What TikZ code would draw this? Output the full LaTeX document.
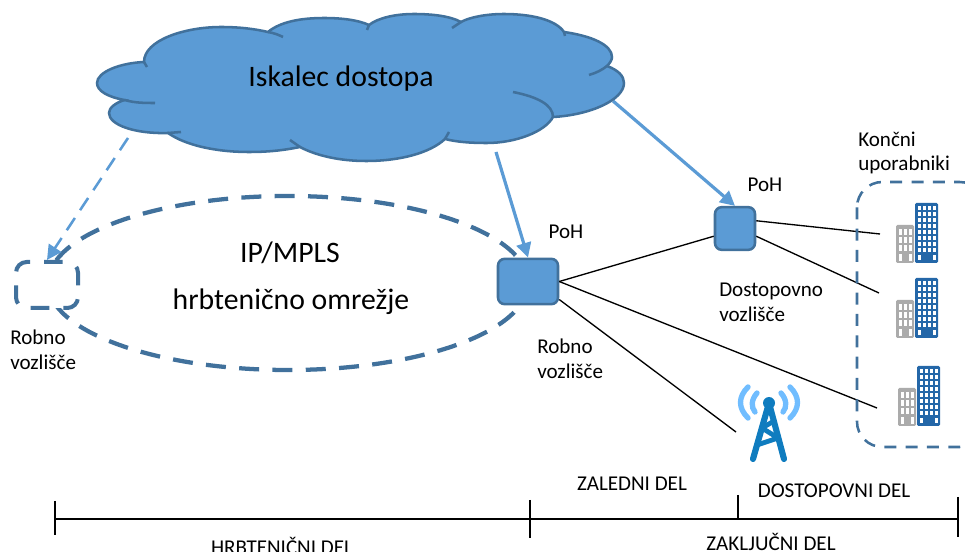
\documentclass[tikz,border=0pt]{standalone}
\usepackage{fontspec}
\setmainfont{Carlito}
\usetikzlibrary{arrows.meta}

\definecolor{cloudblue}{HTML}{5B9BD5}
\definecolor{edgeblue}{HTML}{41719C}
\definecolor{towerblue}{HTML}{0F7CBF}
\definecolor{waveblue}{HTML}{70BDFF}
\definecolor{tallblue}{HTML}{2467A8}
\definecolor{lowgray}{HTML}{ABABAB}

\tikzset{
  bigtext/.style={font=\fontsize{22.3}{26}\selectfont, inner sep=0pt},
  smalltext/.style={font=\fontsize{15.8}{18.5}\selectfont, inner sep=0pt, align=left},
  smallcaps/.style={font=\fontsize{15.8}{18}\selectfont, inner sep=0pt},
  poh/.style={draw=edgeblue, fill=cloudblue, line width=1.9pt, rounded corners=5pt, inner sep=0pt},
  dashbox/.style={draw=edgeblue, fill=white, line width=3pt, rounded corners=8pt, inner sep=0pt,
    dash pattern=on 14pt off 10.5pt, dash phase=21pt},
  cutarrow/.style={-{Triangle[length=11pt,width=11pt]}, cloudblue},
  link/.style={black, line width=1pt},
  pics/building/.style={code={
    \fill[lowgray, rounded corners=1pt] (0,0) rectangle (18,-38);
    \fill[tallblue, rounded corners=1pt] (19,0) rectangle (42,-60);
    \foreach \r in {0,...,2}
      \foreach \c in {0,1,2}
        \fill[white] (2.5+5*\c,-33.5+8*\r) rectangle ++(3.2,6);
    \fill[white] (2.5,-9) rectangle ++(3.2,7);
    \fill[white] (12.5,-9) rectangle ++(3.2,7);
    \foreach \r in {0,...,7}
      \foreach \c in {0,...,3}
        \fill[white] (22+5*\c,-57+6*\r) rectangle ++(3,4);
    \fill[white] (22,-8) rectangle ++(3,5);
    \fill[white] (37,-8) rectangle ++(3,5);
  }}
}

\begin{document}
\begin{tikzpicture}[x=0.75pt,y=-0.75pt]
  \useasboundingbox (0,0) rectangle (965,552);

  % Free ends of the connectors
  \coordinate (cloudleft) at (128,138);
  \coordinate (cloudmid) at (496,152);
  \coordinate (cloudright) at (613,101);
  \coordinate (userone) at (880,234);
  \coordinate (usertwo) at (879,293);
  \coordinate (userthree) at (877,408);
  \coordinate (towerend) at (736,432);

  % Backbone ellipse
  \draw[edgeblue, line width=3.2pt, dash pattern=on 15pt off 10pt] (288,283) ellipse [x radius=240, y radius=87];

  % Arrows out of the cloud
  \node[dashbox, minimum width=46.5pt, minimum height=34.5pt] (robnoleft) at (47,285) {};
  \node[poh, minimum width=45pt, minimum height=34pt] (robnoright) at (528,281.5) {};
  \node[poh, minimum width=30pt, minimum height=32pt] (dostop) at (735,228.5) {};
  \draw[cutarrow, line width=1.9pt, dash pattern=on 11pt off 7pt] (cloudleft) -- (robnoleft.north);
  \draw[cutarrow, line width=2.4pt] (cloudmid) -- (robnoright.north);
  \draw[cutarrow, line width=2.4pt] (cloudright) -- (dostop.north);

  % Cloud
  \draw[edgeblue, fill=cloudblue, line width=1.9pt]
    (144,62) .. controls (144,40) and (185,27) .. (221,27) .. controls (240,27) and (255,29) .. (268,32)
    .. controls (280,22) and (300,18) .. (324,18) .. controls (342,18) and (358,20) .. (369,25)
    .. controls (378,18) and (395,14) .. (414,14) .. controls (432,14) and (450,16) .. (461,22)
    .. controls (470,17) and (487,14) .. (504,14) .. controls (532,14) and (556,20) .. (564,32)
    .. controls (592,36) and (612,45) .. (612,57) .. controls (612,60) and (610,63) .. (607,66)
    .. controls (618,70) and (624,76) .. (624,83) .. controls (624,100) and (590,115) .. (553,117)
    .. controls (545,132) and (515,143) .. (487,143) .. controls (470,143) and (457,142) .. (445,139)
    .. controls (430,153) and (400,161) .. (366,161) .. controls (338,161) and (315,155) .. (300,147)
    .. controls (285,150) and (270,152) .. (249,152) .. controls (215,152) and (185,145) .. (168,133)
    .. controls (135,134) and (109,125) .. (109,113) .. controls (109,108) and (115,103) .. (124.5,100)
    .. controls (108,97) and (97,91) .. (97,83) .. controls (97,72) and (120,63) .. (144,62) -- cycle;
  \draw[edgeblue, line width=1.9pt] (144,62) -- (147,67);
  \draw[edgeblue, line width=1.9pt] (268,32) .. controls (274,33) and (279,35) .. (283,37);
  \draw[edgeblue, line width=1.9pt] (369,25) -- (367,30);
  \draw[edgeblue, line width=1.9pt] (461,22) -- (452,28);
  \draw[edgeblue, line width=1.9pt] (564,32) -- (565,36);
  \draw[edgeblue, line width=1.9pt] (607,66) .. controls (602,70) and (596,73) .. (589,75);
  \draw[edgeblue, line width=1.9pt] (513,92) .. controls (538,97) and (553,105) .. (553,117);
  \draw[edgeblue, line width=1.9pt] (445,139) -- (449,132);
  \draw[edgeblue, line width=1.9pt] (300,147) -- (290,140);
  \draw[edgeblue, line width=1.9pt] (168,133) -- (181,132);
  \draw[edgeblue, line width=1.9pt] (124.5,100) .. controls (135,103) and (145,103) .. (155,103);

  % Links
  \draw[link] (robnoright.east) -- (dostop.200);
  \draw[link] (robnoright.east) -- (userthree);
  \draw[link] (robnoright.-30) -- (towerend);
  \draw[link] (dostop.20) -- (userone);
  \draw[link] (dostop.-20) -- (usertwo);

  % Users
  \draw[edgeblue, line width=1.9pt, rounded corners=19pt, dash pattern=on 9pt off 7pt] (857,182) rectangle (985,447);
  \pic at (896,263) {building};
  \pic at (896,338) {building};
  \pic at (898,426) {building};

  % Tower
  \draw[towerblue, line width=4.6pt, line cap=round, line join=round]
    (753,459) -- (769,403) -- (784,459);
  \draw[towerblue, line width=3.6pt, line cap=round, line join=round]
    (757,445) -- (778,438) -- (762,428) -- (774,421);
  \fill[towerblue] (769,403) circle (6);
  \draw[waveblue, line width=4pt, line cap=round]
    (757,393) .. controls (751,400) and (751,407) .. (755,412)
    (781,393) .. controls (787,400) and (787,407) .. (783,412)
    (748,387) .. controls (738,397) and (738,408) .. (748,418)
    (790,387) .. controls (800,397) and (800,408) .. (790,418);

  % Labels
  \node[bigtext] (cloudlabel) at (341,79) {Iskalec dostopa};
  \node[bigtext] (iplabel) at (290,253) {IP/MPLS};
  \node[bigtext] (hrblabel) at (291,302) {hrbtenično omrežje};
  \node[smalltext] (pohleft) at (566,232) {PoH};
  \node[smalltext] (pohright) at (765,185) {PoH};
  \node[smalltext, anchor=west] (robnolabela) at (10,350) {Robno\\vozlišče};
  \node[smalltext, anchor=west] (robnolabelb) at (537,359) {Robno\\vozlišče};
  \node[smalltext, anchor=west] (dostoplabel) at (719,302) {Dostopovno\\vozlišče};
  \node[smalltext, anchor=west] (userlabel) at (858,153) {Končni\\uporabniki};

  % Scale at the bottom
  \coordinate (scalea) at (55,519);
  \coordinate (scaleb) at (530,519);
  \coordinate (scalec) at (738,519);
  \coordinate (scaled) at (958,519);
  \draw[link] (scalea) -- (scaled);
  \draw[link] (55,501) -- (55,535);
  \draw[link] (530,500) -- (530,538);
  \draw[link] (738,495) -- (scalec);
  \draw[link] (958,497) -- (958,537);
  \node[smallcaps] (zaledni) at (632,484) {ZALEDNI DEL};
  \node[smallcaps] (dostopovni) at (834,491) {DOSTOPOVNI DEL};
  \node[smallcaps] (hrbtenicni) at (282,546) {HRBTENIČNI DEL};
  \node[smallcaps] (zakljucni) at (771,542) {ZAKLJUČNI DEL};
\end{tikzpicture}
\end{document}
